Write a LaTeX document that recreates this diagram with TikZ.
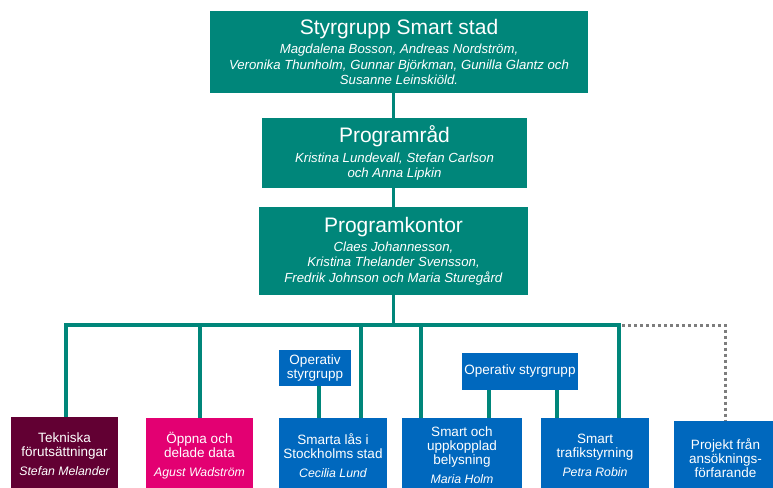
\documentclass[tikz,border=0pt]{standalone}
\usepackage{fontspec}
\setmainfont{Liberation Sans}
\usetikzlibrary{positioning}
\definecolor{stadteal}{RGB}{0,134,122}
\definecolor{stadwine}{RGB}{98,0,51}
\definecolor{stadpink}{RGB}{227,0,114}
\definecolor{stadblue}{RGB}{0,104,190}
\definecolor{dotgray}{RGB}{125,125,125}

\begin{document}
\begin{tikzpicture}[x=1pt, y=-1pt, font=\fontsize{13.5}{14}\selectfont,
  orgbox/.style={fill=#1, text=white, align=center, inner sep=0pt},
  namefont/.style={font=\fontsize{13.2}{15.5}\selectfont},
  link/.style={draw=stadteal, line width=3.5pt},
  dotlink/.style={draw=dotgray, line width=3pt, dash pattern=on 3pt off 3pt}]
\useasboundingbox (0,0) rectangle (773,487);
% --- Top of the organisation ---
\node[orgbox=stadteal, namefont, minimum width=378, minimum height=82]
  (styr) at (399,52)
  {{\fontsize{21}{22}\selectfont Styrgrupp Smart stad}\\[3.5pt]
   \textit{Magdalena Bosson, Andreas Nordström,}\\
   \textit{Veronika Thunholm, Gunnar Björkman, Gunilla Glantz och}\\
   \textit{Susanne Leinskiöld.}};
\node[orgbox=stadteal, namefont, minimum width=265, minimum height=70]
  (rad) at (394.5,153)
  {{\fontsize{21}{22}\selectfont Programråd}\\[4pt]
   \textit{Kristina Lundevall, Stefan Carlson}\\
   \textit{och Anna Lipkin}};
\node[orgbox=stadteal, namefont, minimum width=269, minimum height=88]
  (kont) at (393.5,251)
  {{\fontsize{21}{22}\selectfont Programkontor}\\[3.5pt]
   \textit{Claes Johannesson,}\\
   \textit{Kristina Thelander Svensson,}\\
   \textit{Fredrik Johnson och Maria Sturegård}};
\draw[link] (styr.south -| kont.north) -- (rad.north -| kont.north);
\draw[link] (rad.south -| kont.north) -- (kont.north);

% --- Projects ---
\node[orgbox=stadwine, anchor=north, minimum width=107, minimum height=74]
  (tek) at (64.5,417)
  {Tekniska\\förutsättningar\\[5pt]{\fontsize{12.3}{14}\selectfont\itshape Stefan Melander}};
\node[orgbox=stadpink, anchor=north, minimum width=107, minimum height=74]
  (oppna) at (199.5,418)
  {Öppna och\\delade data\\[5pt]{\fontsize{12.3}{14}\selectfont\itshape Agust Wadström}};
\node[orgbox=stadblue, anchor=north, minimum width=108, minimum height=74]
  (las) at (333,418)
  {Smarta lås i\\Stockholms stad\\[5pt]{\fontsize{12.3}{14}\selectfont\itshape Cecilia Lund}};
\node[orgbox=stadblue, anchor=north, minimum width=120, minimum height=74]
  (belys) at (462,418)
  {Smart och\\uppkopplad\\belysning\\[5pt]{\fontsize{12.3}{14}\selectfont\itshape Maria Holm}};
\node[orgbox=stadblue, anchor=north, minimum width=108, minimum height=74]
  (trafik) at (595,418)
  {Smart\\trafikstyrning\\[5pt]{\fontsize{12.3}{14}\selectfont\itshape Petra Robin}};
\node[orgbox=stadblue, anchor=north, minimum width=103, minimum height=74]
  (ansok) at (725.5,421)
  {Projekt från\\ansöknings-\\förfarande};

% --- Operative steering groups ---
\node[orgbox=stadblue, minimum width=72, minimum height=36]
  (opA) at (315,368) {Operativ\\styrgrupp};
\node[orgbox=stadblue, minimum width=116, minimum height=37]
  (opB) at (520,371.5) {Operativ styrgrupp};
\path ([xshift=4pt]opA.south) coordinate (opA1);
\path ([xshift=-31pt]opB.south) coordinate (opB1);
\path ([xshift=37pt]opB.south) coordinate (opB2);
\draw[link] (opA1) -- (opA1 |- las.north);
\draw[link] (opB1) -- (opB1 |- belys.north);
\draw[link] (opB2) -- (opB2 |- trafik.north);

% --- Bus from the programme office ---
\coordinate (bus1) at (66,325);
\coordinate (bus2) at (200,325);
\coordinate (bus3) at (361,325);
\coordinate (bus4) at (421,325);
\coordinate (bus6) at (619,325);
\draw[link] (kont.south) -- (kont.south |- bus1);
\draw[link] (bus1 |- tek.north) -- (bus1) -- (bus6) -- (bus6 |- trafik.north);
\draw[link] (bus2) -- (bus2 |- oppna.north);
\draw[link] (bus3) -- (bus3 |- las.north);
\draw[link] (bus4) -- (bus4 |- belys.north);
\draw[dotlink] ([xshift=3pt]bus6) -| (ansok.north);
\end{tikzpicture}
\end{document}
